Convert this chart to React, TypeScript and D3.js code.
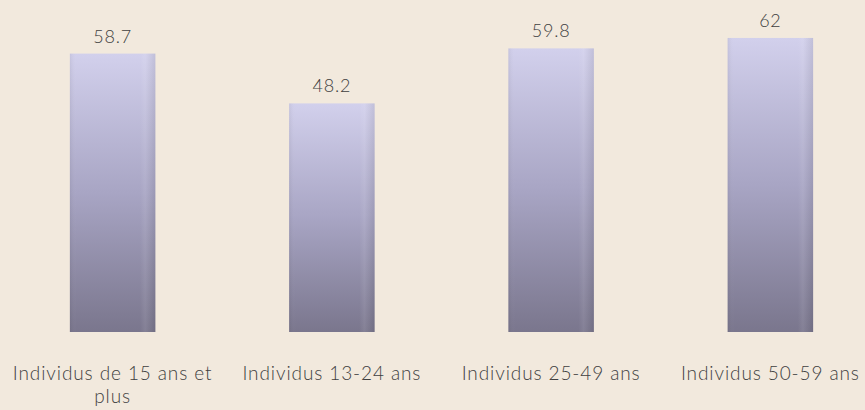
import React from "react";
import * as d3 from "d3";

const categories: string[][] = [
  ["Individus de 15 ans et", "plus"],
  ["Individus 13-24 ans"],
  ["Individus 25-49 ans"],
  ["Individus 50-59 ans"],
];
const values: number[] = [58.7, 48.2, 59.8, 62];
const valueLabels: string[] = ["58.7", "48.2", "59.8", "62"];

export default function App() {
  const W = 865;
  const H = 410;
  const x = d3
    .scaleBand<number>()
    .domain(d3.range(values.length))
    .range([3, 880])
    .paddingInner(0.61)
    .paddingOuter(0.305);
  const y = d3.scaleLinear().domain([0, 70]).range([332, 0]);
  const font = "Lato, 'Open Sans', sans-serif";
  return (
    <svg
      width={W}
      height={H}
      style={{ position: "absolute", left: 0, top: 0, background: "#F2E9DD" }}
    >
      <defs>
        <linearGradient id="barGrad" x1="0" y1="0" x2="0" y2="1">
          <stop offset="0%" stopColor="#D2D0EC" />
          <stop offset="50%" stopColor="#A8A5C4" />
          <stop offset="100%" stopColor="#7A768D" />
        </linearGradient>
        <linearGradient id="edgeGrad" x1="0" y1="0" x2="1" y2="0">
          <stop offset="0%" stopColor="#000" stopOpacity="0.06" />
          <stop offset="8%" stopColor="#fff" stopOpacity="0" />
          <stop offset="82%" stopColor="#fff" stopOpacity="0" />
          <stop offset="88%" stopColor="#fff" stopOpacity="0.08" />
          <stop offset="100%" stopColor="#000" stopOpacity="0.08" />
        </linearGradient>
      </defs>
      <rect width={W} height={H} fill="#F2E9DD" />
      {values.map((v, i) => {
        const bx = x(i)!;
        const bw = x.bandwidth();
        const top = y(v);
        const h = y(0) - top;
        const cx = bx + bw / 2;
        return (
          <g key={i}>
            <rect x={bx} y={top} width={bw} height={h} fill="url(#barGrad)" />
            <rect x={bx} y={top} width={bw} height={h} fill="url(#edgeGrad)" />
            <text
              x={cx}
              y={top - 11}
              textAnchor="middle"
              fontFamily={font}
              fontSize={18}
              fontWeight={300}
              fill="#3f3f3f"
              letterSpacing={0.8}
            >
              {valueLabels[i]}
            </text>
            {categories[i].map((line, j) => (
              <text
                key={j}
                x={cx}
                y={380 + j * 23}
                textAnchor="middle"
                fontFamily={font}
                fontSize={19}
                fontWeight={300}
                fill="#3f3f3f"
                letterSpacing={0.9}
              >
                {line}
              </text>
            ))}
          </g>
        );
      })}
    </svg>
  );
}
